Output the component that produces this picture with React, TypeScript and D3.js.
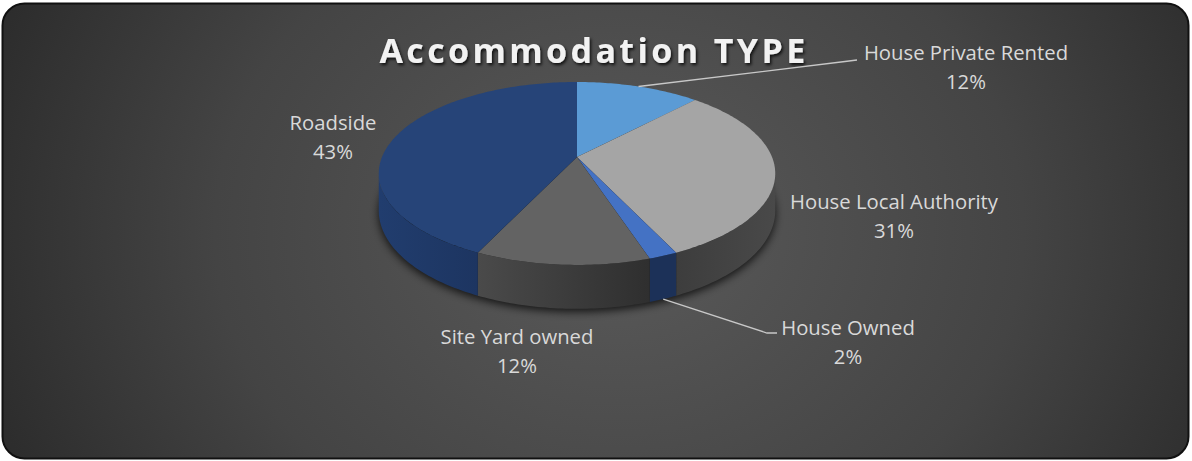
import React from "react";
import * as d3 from "d3";

const categories = ["House Private Rented", "House Local Authority", "House Owned", "Site Yard owned", "Roadside"];
const values = [12, 31, 2, 12, 43];
const topColors = ["#5B9BD5", "#A5A5A5", "#4472C4", "#636363", "#264478"];
const sideColorsL = ["#3f6e9a", "#3d3d3d", "#1c3158", "#4a4a4a", "#213d6e"];
const sideColorsR = ["#3f6e9a", "#494949", "#1c3158", "#2f2f2f", "#1d3561"];

const W = 1192, H = 461;
const cx = 577, cy = 157, A = 195, B = 88.5, K = 0.18, DEPTH = 36;

function proj(theta: number, r = 1, h = 0): [number, number] {
  const u = r * Math.sin(theta);
  const v = -r * Math.cos(theta);
  const den = 1 - K * v;
  return [cx + (A * u) / den, cy + (B * v + DEPTH * h) / den];
}

function arcPts(a0: number, a1: number, h: number): [number, number][] {
  const n = Math.max(2, Math.ceil(((a1 - a0) * 180) / Math.PI));
  const pts: [number, number][] = [];
  for (let i = 0; i <= n; i++) pts.push(proj(a0 + ((a1 - a0) * i) / n, 1, h));
  return pts;
}

const toPath = (pts: [number, number][]) => "M" + pts.map((p) => p[0].toFixed(2) + "," + p[1].toFixed(2)).join("L") + "Z";

// label layout (positions of text centres and leader line elbows)
const labelLayout = [
  { x: 966, y: 52, line: [[857, 60], [845, 61.5]] as [number, number][], anchor: "top" },
  { x: 894, y: 201, line: null, anchor: "" },
  { x: 848, y: 327, line: [[777, 333], [767, 333]] as [number, number][], anchor: "bottom" },
  { x: 517, y: 336, line: null, anchor: "" },
  { x: 333, y: 122, line: null, anchor: "" },
];

export default function App() {
  const pie = d3.pie<number>().sort(null).startAngle(0).endAngle(2 * Math.PI);
  const arcs = pie(values);
  const total = d3.sum(values);
  const fmt = d3.format(".0%");
  const thR = Math.acos(-K);
  const thL = 2 * Math.PI - thR;
  const vertex = proj(0, 0, 0);

  const shadowPts = arcPts(0, 2 * Math.PI, 1).map((p) => [p[0], p[1] + 3] as [number, number]);

  return (
    <svg width={W} height={H} style={{ position: "absolute", left: 0, top: 0 }} xmlns="http://www.w3.org/2000/svg">
      <defs>
        <radialGradient id="bg" cx="0.52" cy="0.5" r="0.62" gradientUnits="objectBoundingBox" gradientTransform="translate(0.52,0.5) scale(1,2.2) translate(-0.52,-0.5)">
          <stop offset="0" stopColor="#5a5a5a" />
          <stop offset="0.55" stopColor="#444444" />
          <stop offset="1" stopColor="#262626" />
        </radialGradient>
        <filter id="blur" x="-20%" y="-20%" width="140%" height="140%">
          <feGaussianBlur stdDeviation="4" />
        </filter>
        <filter id="tshadow" x="-10%" y="-30%" width="120%" height="160%">
          <feDropShadow dx="1.5" dy="2" stdDeviation="1.5" floodColor="#000" floodOpacity="0.8" />
        </filter>
        {arcs.map((a, i) => (
          <linearGradient key={i} id={"side" + i} x1="0" y1="0" x2="1" y2="0">
            <stop offset="0" stopColor={sideColorsL[i]} />
            <stop offset="1" stopColor={sideColorsR[i]} />
          </linearGradient>
        ))}
      </defs>
      <rect x={0} y={0} width={W} height={H} fill="#ffffff" />
      <rect x={2.5} y={3.5} width={1186} height={455} rx={22} ry={22} fill="url(#bg)" stroke="#111" strokeWidth={2} />

      <text x={594} y={63} textAnchor="middle" fontFamily="'Open Sans', sans-serif" fontWeight={700} fontSize={34} letterSpacing={3.4} fill="#f2f2f2" filter="url(#tshadow)">
        Accommodation TYPE
      </text>

      <path d={toPath(shadowPts)} fill="#000" opacity={0.75} filter="url(#blur)" />

      {arcs.map((a, i) => {
        const a0 = Math.max(a.startAngle, thR);
        const a1 = Math.min(a.endAngle, thL);
        if (a0 >= a1) return null;
        const top = arcPts(a0, a1, 0);
        const bot = arcPts(a0, a1, 1).reverse();
        return <path key={"s" + i} d={toPath([...top, ...bot])} fill={`url(#side${i})`} />;
      })}

      {arcs.map((a, i) => (
        <path key={"t" + i} d={toPath([vertex, ...arcPts(a.startAngle, a.endAngle, 0)])} fill={topColors[i]} />
      ))}

      {arcs.map((a, i) => {
        const L = labelLayout[i];
        if (!L.line) return null;
        const mid = (a.startAngle + a.endAngle) / 2;
        const start = L.anchor === "top" ? proj(mid, 1, 0) : proj(mid, 1, 1);
        const pts = [start, L.line[1], L.line[0]];
        return <polyline key={"l" + i} points={pts.map((p) => p.join(",")).join(" ")} fill="none" stroke="#c8c8c8" strokeWidth={1.3} />;
      })}

      {arcs.map((a, i) => {
        const L = labelLayout[i];
        return (
          <text key={"tx" + i} textAnchor="middle" fontFamily="'Open Sans', sans-serif" fontSize={20.3} fill="#d9d9d9">
            <tspan x={L.x} y={L.y + 8}>{categories[i]}</tspan>
            <tspan x={L.x} y={L.y + 37}>{fmt(a.value / total)}</tspan>
          </text>
        );
      })}
    </svg>
  );
}
